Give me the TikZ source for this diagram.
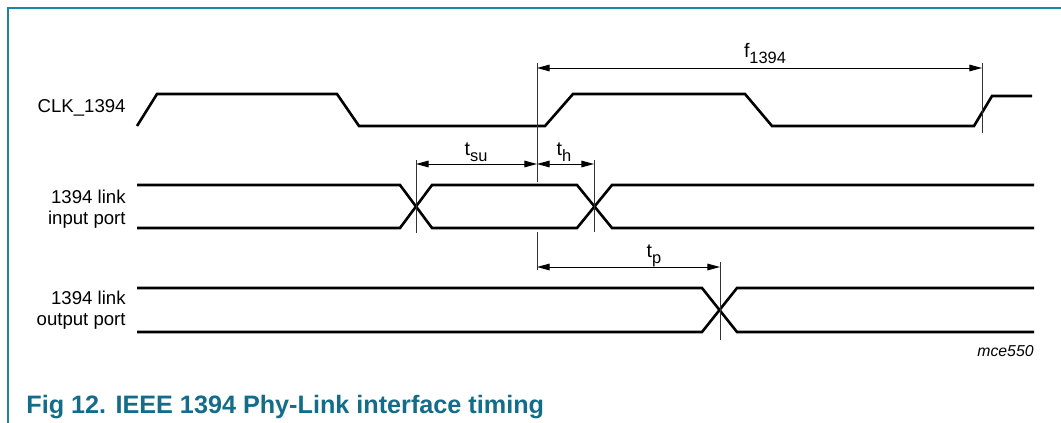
\documentclass[tikz,border=0pt]{standalone}
\usepackage{fontspec}
\setmainfont{Liberation Sans}
\usetikzlibrary{arrows.meta}
\definecolor{framecol}{RGB}{30,132,165}
\definecolor{titlecol}{RGB}{18,108,138}
\newcommand{\tsub}[1]{\raisebox{-0.32em}{\fontsize{8.2}{9}\selectfont #1}}

\begin{document}
\begin{tikzpicture}
    [x=0.5pt,y=-0.5pt,
    font=\fontsize{9.3}{11}\selectfont,
    wave/.style={line width=1.3pt,line join=miter},
    tick/.style={line width=0.5pt,draw=black!80},
    dim/.style={{Triangle[length=6.3pt,width=3.3pt]}-{Triangle[length=6.3pt,width=3.3pt]},line width=0.5pt},
    lbl/.style={anchor=base east,inner sep=0pt},
    tlbl/.style={anchor=base,inner sep=0pt,font=\fontsize{9.8}{11}\selectfont},
    frame/.style={draw=framecol,line width=0.8pt}]

    \useasboundingbox (0,0) rectangle (1061,423);
    \draw [frame] (8,423) -- (8,8) -- (1061,8);

    % signal names
    \node (clk) [lbl] at (126,112) {CLK\_1394};
    \node (in1) [lbl] at (126,203) {1394 link};
    \node (in2) [lbl] at (126,224) {input port};
    \node (out1) [lbl] at (126,304) {1394 link};
    \node (out2) [lbl] at (126,325) {output port};

    % waveforms
    \draw [wave] (137,126) -- (157,94) -- (337,94) -- (359,126) -- (545,126) -- (573,94)
        -- (745,94) -- (772,126) -- (974,126) -- (992,96) -- (1032,96);
    \draw [wave] (137,185) -- (400,185) -- (432,228) -- (577,228) -- (612,185) -- (1034,185);
    \draw [wave] (137,228) -- (400,228) -- (432,185) -- (577,185) -- (612,228) -- (1034,228);
    \draw [wave] (137,288) -- (702,288) -- (737,332) -- (1034,332);
    \draw [wave] (137,332) -- (702,332) -- (737,288) -- (1034,288);

    % reference marks
    \coordinate (c0) at (537,68);
    \coordinate (c1) at (982,68);
    \coordinate (s0) at (416,164);
    \coordinate (s1) at (537,164);
    \coordinate (h1) at (594,164);
    \coordinate (p0) at (537,267);
    \coordinate (p1) at (720,267);
    \draw [tick] (537,63) -- (537,182);
    \draw [tick] (537,232) -- (537,270);
    \draw [tick] (982,63) -- (982,133);
    \draw [tick] (416,160) -- (416,233);
    \draw [tick] (594,160) -- (594,232);
    \draw [tick] (720,262) -- (720,340);

    % timing arrows
    \draw [dim] (c0) -- (c1);
    \draw [dim] (s0) -- (s1);
    \draw [dim] (s1) -- (h1);
    \draw [dim] (p0) -- (p1);
    \node (f) [tlbl] at (765,57) {f\tsub{1394}};
    \node (tsu) [tlbl] at (476,155) {t\tsub{su}};
    \node (th) [tlbl] at (564,155) {t\tsub{h}};
    \node (tp) [tlbl] at (654,257) {t\tsub{p}};

    \node (code) [anchor=base east,inner sep=0pt,font=\fontsize{7.9}{9}\selectfont\itshape] at (1034,356) {mce550};
    \node (title) [anchor=base west,inner sep=0pt,text=titlecol,font=\fontsize{12.6}{14}\selectfont\bfseries] at (26,413) {Fig 12. IEEE 1394 Phy-Link interface timing};

\end{tikzpicture}
\end{document}
